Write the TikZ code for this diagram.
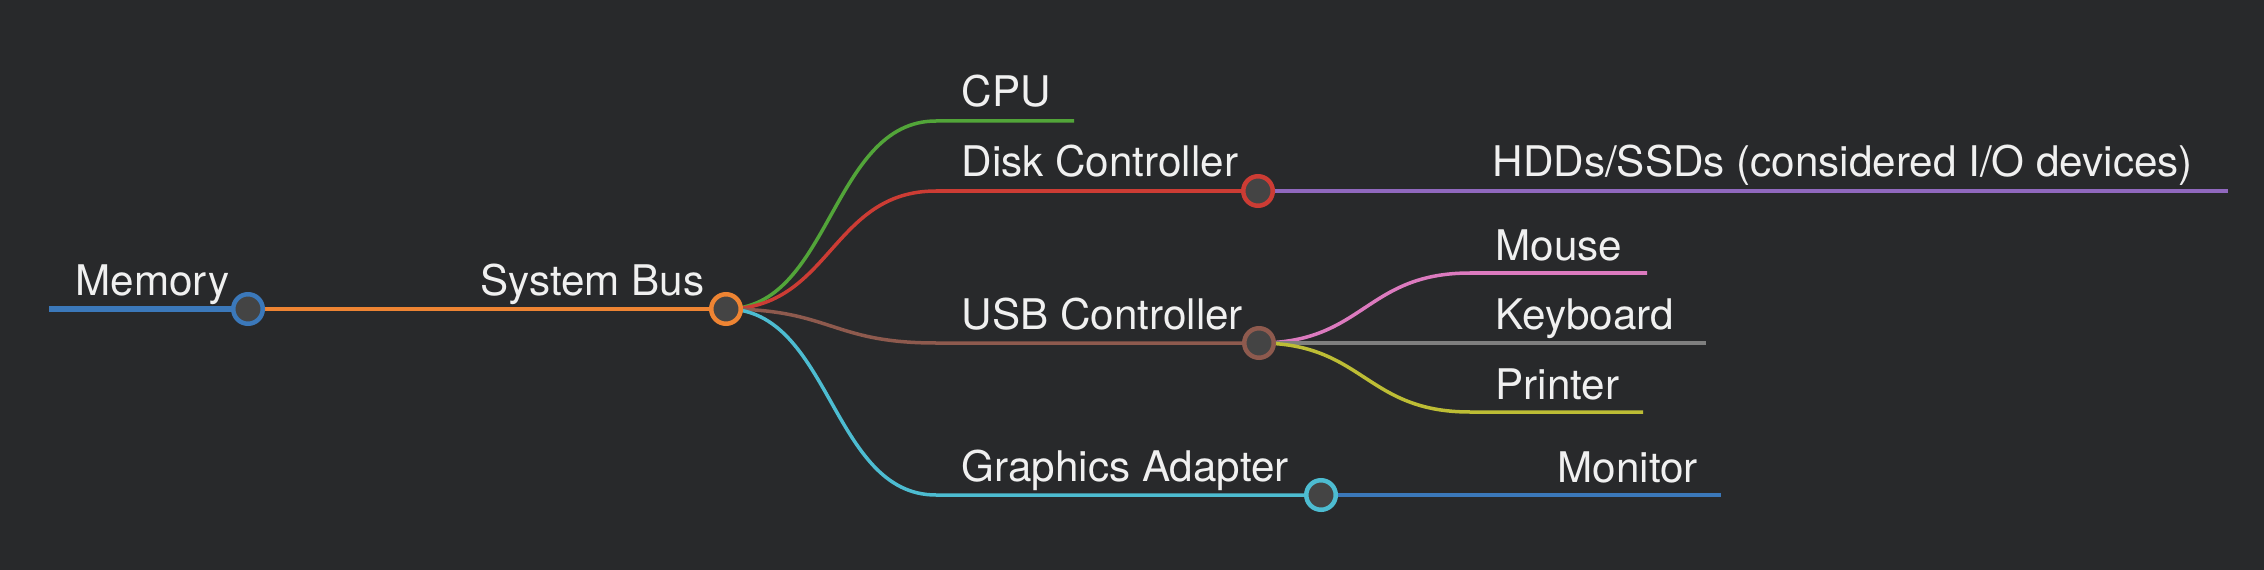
\documentclass[tikz,border=0pt]{standalone}
\usepackage{fontspec}
\setmainfont{TeX Gyre Heros}
\definecolor{bg}{HTML}{28292B}
\definecolor{dotfill}{HTML}{444444}
\definecolor{labeltext}{HTML}{F0F0F0}
\definecolor{memblue}{HTML}{3B78BA}
\definecolor{busorange}{HTML}{EE8433}
\definecolor{cpugreen}{HTML}{52A539}
\definecolor{diskred}{HTML}{CC3C34}
\definecolor{hddpurple}{HTML}{9068BE}
\definecolor{usbbrown}{HTML}{8E5A4E}
\definecolor{mousepink}{HTML}{DC7ABF}
\definecolor{keygrey}{HTML}{7F7F7F}
\definecolor{printolive}{HTML}{BDBD35}
\definecolor{gfxcyan}{HTML}{4DBCD1}
\begin{document}
\begin{tikzpicture}[x=0.01cm,y=-0.01cm,
	lbl/.style={text=labeltext,inner sep=0pt,font=\fontsize{12}{14}\selectfont},
	dot/.style={circle,line width=0.045cm,fill=dotfill,minimum size=0.295cm,inner sep=0pt},
	edge/.style={line width=0.035cm}]
\fill [bg] (0,0) rectangle (2264,570);
\useasboundingbox (0,0) rectangle (2264,570);
\coordinate (memstart) at (49,309);
\coordinate (mem) at (248,309);
\coordinate (bus) at (726,309);
\coordinate (cpu) at (936,121);
\coordinate (cpuend) at (1074,121);
\coordinate (disk) at (936,191);
\coordinate (diskdot) at (1258,191);
\coordinate (hddend) at (2228,191);
\coordinate (usb) at (936,343);
\coordinate (usbdot) at (1259,343);
\coordinate (mouse) at (1470,273);
\coordinate (mouseend) at (1647,273);
\coordinate (keyend) at (1706,343);
\coordinate (printer) at (1470,412);
\coordinate (printerend) at (1643,412);
\coordinate (gfx) at (936,495);
\coordinate (gfxdot) at (1321,495);
\coordinate (monend) at (1721,495);
\draw [memblue,line width=0.06cm] (memstart) -- (mem);
\draw [busorange,line width=0.045cm] (mem) -- (bus);
\draw [edge,cpugreen] (bus) .. controls +(105,0) and +(-105,0) .. (cpu) -- (cpuend);
\draw [edge,diskred] (bus) .. controls +(105,0) and +(-105,0) .. (disk) -- (diskdot);
\draw [edge,usbbrown] (bus) .. controls +(105,0) and +(-105,0) .. (usb) -- (usbdot);
\draw [edge,gfxcyan] (bus) .. controls +(105,0) and +(-105,0) .. (gfx) -- (gfxdot);
\draw [edge,hddpurple] (diskdot) -- (hddend);
\draw [edge,mousepink] (usbdot) .. controls +(105,0) and +(-105,0) .. (mouse) -- (mouseend);
\draw [edge,keygrey] (usbdot) -- (keyend);
\draw [edge,printolive] (usbdot) .. controls +(105,0) and +(-105,0) .. (printer) -- (printerend);
\draw [edge,memblue] (gfxdot) -- (monend);
\node [dot,draw=memblue] (memdot) at (mem) {};
\node [dot,draw=busorange] (busdot) at (bus) {};
\node [dot,draw=diskred] (diskcirc) at (diskdot) {};
\node [dot,draw=usbbrown] (usbcirc) at (usbdot) {};
\node [dot,draw=gfxcyan] (gfxcirc) at (gfxdot) {};
\node [lbl,anchor=base west] (memlbl) at (75,295) {Memory};
\node [lbl,anchor=base east] (buslbl) at (705,295) {System Bus};
\node [lbl,anchor=base west] (cpulbl) at (961,107) {CPU};
\node [lbl,anchor=base west] (disklbl) at (961,177) {Disk Controller};
\node [lbl,anchor=base west] (hddlbl) at (1492,177) {HDDs/SSDs (considered I/O devices)};
\node [lbl,anchor=base west] (usblbl) at (961,329) {USB Controller};
\node [lbl,anchor=base west] (mouselbl) at (1495,260) {Mouse};
\node [lbl,anchor=base west] (keylbl) at (1495,329) {Keyboard};
\node [lbl,anchor=base west] (printerlbl) at (1495,399) {Printer};
\node [lbl,anchor=base west] (gfxlbl) at (961,481) {Graphics Adapter};
\node [lbl,anchor=base west] (monlbl) at (1557,482) {Monitor};
\end{tikzpicture}
\end{document}
